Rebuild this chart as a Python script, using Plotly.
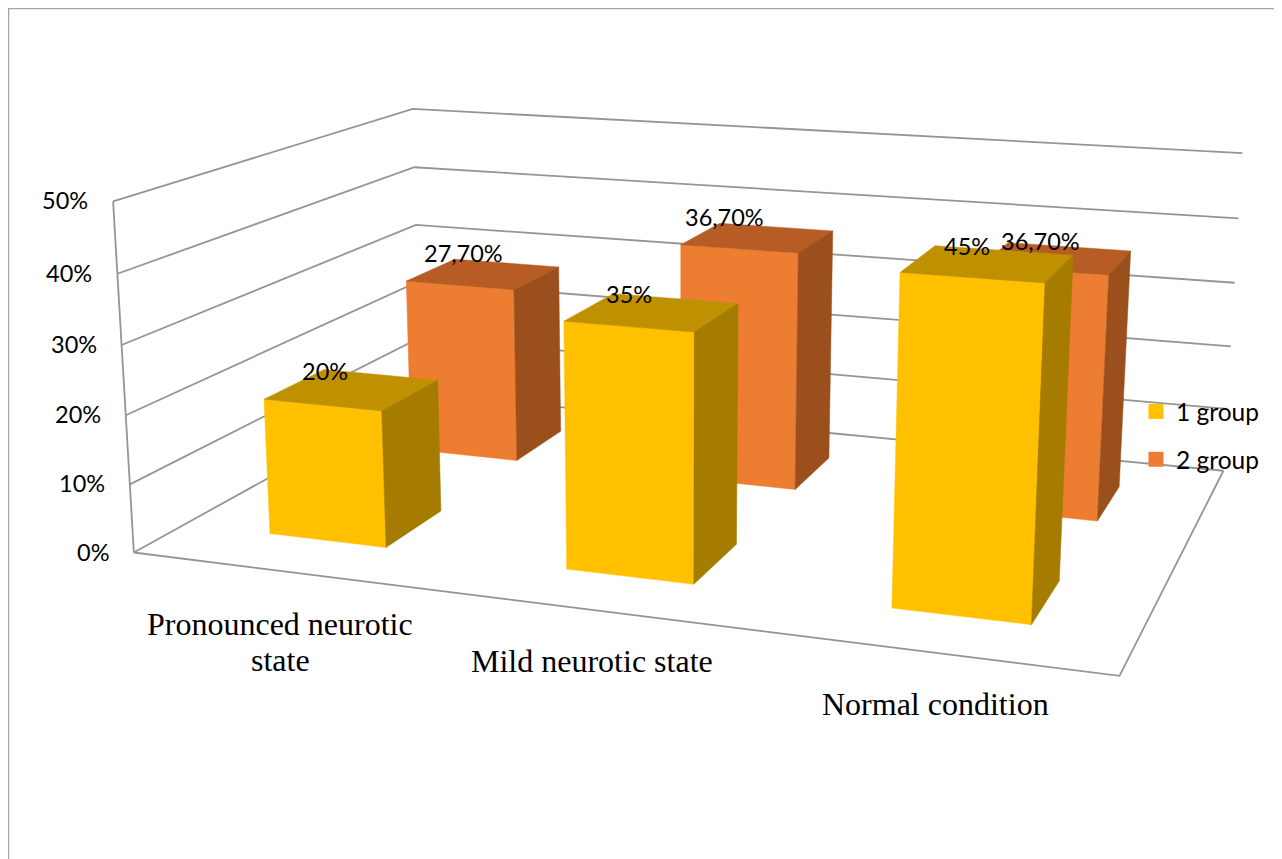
import numpy as np
import plotly.graph_objects as go

# ---- data ----
categories = ["Pronounced neurotic<br>state", "Mild neurotic state", "Normal condition"]
group_1 = [20, 35, 45]
group_2 = [27.7, 36.7, 36.7]
group_1_labels = ["20%", "35%", "45%"]
group_2_labels = ["27,70%", "36,70%", "36,70%"]
series_names = ["1 group", "2 group"]
z_ticks = [0, 10, 20, 30, 40, 50]
z_tick_labels = ["0%", "10%", "20%", "30%", "40%", "50%"]

# ---- 3D perspective scale: (category, series depth, value) -> picture position ----
EYE = np.array([0.818, -2.3703, 0.6101])
CENTER = np.array([-0.0261, -0.0704, -0.0373])
UP = np.array([0.003, -0.005, 1.0])
ASPECT = np.array([1.0, 0.6715, 0.3614])
FOCAL, CX, CY = 2449.232, 661.6959, 393.8237
BAR_W, BAR_D = 0.4017, 0.3922
X_MAX, Y_MAX, Z_MAX = len(categories), len(series_names), z_ticks[-1]

_f = CENTER - EYE
_f = _f / np.linalg.norm(_f)
_s = np.cross(_f, UP)
_s = _s / np.linalg.norm(_s)
_u = np.cross(_s, _f)


def project(x, y, z):
    p = (np.array([x, y, z], float) / np.array([X_MAX, Y_MAX, Z_MAX]) - 0.5) * ASPECT - EYE
    zc = p @ _f
    return CX + FOCAL * (p @ _s) / zc, CY - FOCAL * (p @ _u) / zc


def path(points):
    xy = [project(*p) for p in points]
    return [a for a, _ in xy], [b for _, b in xy]


GRID = "#959595"
fig = go.Figure()


def add_line(points):
    xs, ys = path(points)
    fig.add_trace(go.Scatter(x=xs, y=ys, mode="lines", showlegend=False, hoverinfo="skip",
                             line=dict(color=GRID, width=1.8)))


# walls and floor
for t in z_ticks:
    add_line([(0, 0, t), (0, Y_MAX, t), (X_MAX, Y_MAX, t)])
add_line([(0, 0, 0), (0, 0, Z_MAX)])
add_line([(0, 0, 0), (X_MAX, 0, 0), (X_MAX, Y_MAX, 0)])


def add_face(points, color):
    xs, ys = path(points + points[:1])
    fig.add_trace(go.Scatter(x=xs, y=ys, mode="lines", fill="toself", fillcolor=color,
                             showlegend=False, hoverinfo="skip",
                             line=dict(color=color, width=0.5)))


def add_bar(i, depth, value, front, top, side):
    x0, x1 = i + 0.5 - BAR_W / 2, i + 0.5 + BAR_W / 2
    y0, y1 = depth + 0.5 - BAR_D / 2, depth + 0.5 + BAR_D / 2
    add_face([(x0, y0, 0), (x1, y0, 0), (x1, y0, value), (x0, y0, value)], front)
    add_face([(x0, y0, value), (x1, y0, value), (x1, y1, value), (x0, y1, value)], top)
    add_face([(x1, y0, 0), (x1, y1, 0), (x1, y1, value), (x1, y0, value)], side)


YELLOW = ("#FFC000", "#BF9000", "#A67C00")
ORANGE = ("#ED7D31", "#B65C24", "#9A4F1D")
for i, v in enumerate(group_2):
    add_bar(i, 1, v, *ORANGE)
for i, v in enumerate(group_1):
    add_bar(i, 0, v, *YELLOW)

# legend entries
for name, color in zip(series_names, (YELLOW[0], ORANGE[0])):
    fig.add_trace(go.Scatter(x=[None], y=[None], mode="markers", name=name, legendgroup=name,
                             marker=dict(symbol="square", size=15, color=color)))

annotations = []
# value-axis labels
for t, lab in zip(z_ticks, z_tick_labels):
    px, py = project(0, 0, t)
    annotations.append(dict(x=px - 23, y=py - 1, text=lab, xanchor="right", yanchor="middle",
                            font=dict(family="Lato", size=23.5, color="#000000")))
# category labels (one annotation per text line)
LINE_GAP = 36.5
for i, lab in enumerate(categories):
    px, py = project(i + 0.5, 0, 0)
    lines = lab.split("<br>")
    shift = 33 if len(lines) > 1 else 31
    for k, line in enumerate(lines):
        annotations.append(dict(x=px + 1, y=py + shift + k * LINE_GAP, text=line, xanchor="center", yanchor="top",
                                font=dict(family="Liberation Serif", size=32, color="#000000")))
# data labels: small hand nudges in pixels, as Excel places them
NUDGE_X = [[-16, -3, 11], [-7, -12, 14]]
NUDGE_Y = [[1, 0, 0], [-6, -6, -2]]
for depth, (vals, labs) in enumerate(((group_1, group_1_labels), (group_2, group_2_labels))):
    for i, (v, lab) in enumerate(zip(vals, labs)):
        px, py = project(i + 0.5 - 0.14, depth + 0.5 + BAR_D / 2, v)
        annotations.append(dict(x=px + NUDGE_X[depth][i], y=py - 1 + NUDGE_Y[depth][i], text=lab,
                                xanchor="center", yanchor="middle",
                                font=dict(family="Lato", size=23.5, color="#000000")))

for a in annotations:
    a.update(xref="x", yref="y", showarrow=False)

# the page puts the figure 8 px in from the window's corner
PAGE = 8
W, H = 1282, 859
fig.update_layout(
    width=W, height=H, autosize=False,
    margin=dict(l=0, r=0, t=0, b=0),
    paper_bgcolor="#FFFFFF", plot_bgcolor="#FFFFFF",
    xaxis=dict(range=[PAGE, W + PAGE], visible=False, fixedrange=True),
    yaxis=dict(range=[H + PAGE, PAGE], visible=False, fixedrange=True),
    annotations=annotations,
    shapes=[dict(type="rect", xref="x", yref="y", x0=8.5, y0=8.5, x1=1400, y1=1000,
                 line=dict(color="#A6A6A6", width=1.5), layer="below")],
    showlegend=True,
    legend=dict(x=(1136 - PAGE) / W, y=1 - (389 - PAGE) / H, xanchor="left", yanchor="top",
                bgcolor="rgba(0,0,0,0)", tracegroupgap=13,
                font=dict(family="Lato", size=24.5, color="#000000")),
)

fig.write_html("out.html")
